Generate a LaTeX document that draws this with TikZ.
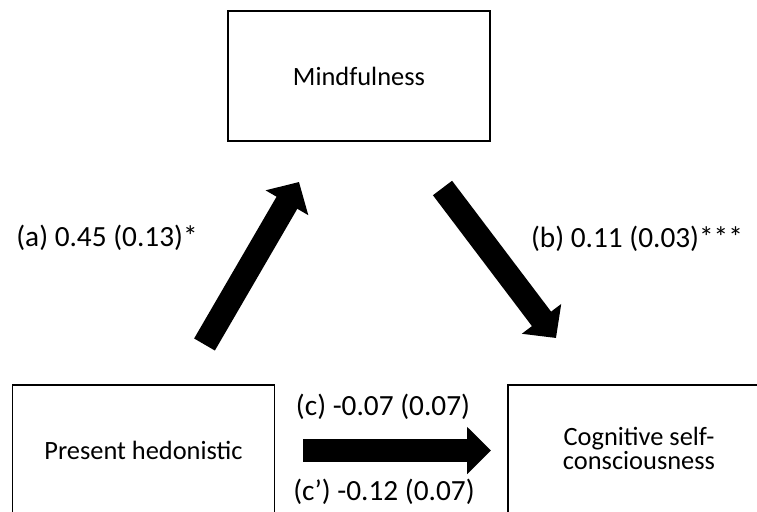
\documentclass[tikz,border=0pt]{standalone}
\usepackage{fontspec}
\setmainfont{Carlito}
\usetikzlibrary{arrows.meta}
\begin{document}
\begin{tikzpicture}[x=1pt,y=-1pt,
  varbox/.style={draw=black,line width=1.6pt,rectangle,minimum width=262pt,minimum height=130pt,inner sep=0pt,
    font=\fontsize{26.4}{24}\selectfont,align=center},
  boxtext/.style={inner sep=0pt,font=\fontsize{26.4}{24}\selectfont,align=center},
  lab/.style={inner sep=0pt,font=\fontsize{29.3}{35}\selectfont},
  bigarrow/.style={line width=24pt,-{Triangle[length=24pt,width=48pt]}}]
\useasboundingbox (0,0) rectangle (757,511);
\clip (0,0) rectangle (757,511);
\node[varbox] (m) at (359,76) {Mindfulness};
\node[varbox] (p) at (143.5,450) {Present hedonistic};
\node[varbox] (c) at (639,450) {};
\node[boxtext] (ct) at (639,448.5) {Cognitive self-\\consciousness};
\coordinate (a0) at (204.5,344.5);
\coordinate (a1) at (299,182);
\coordinate (b0) at (442.5,188);
\coordinate (b1) at (556,338);
\coordinate (c0) at (303,450.5);
\coordinate (c1) at (491,450.5);
\draw[bigarrow] (a0) -- (a1);
\draw[bigarrow] (b0) -- (b1);
\draw[line width=23pt,-{Triangle[length=24pt,width=46pt]}] (c0) -- (c1);
\node[lab] (la) at (107,238) {(a) 0.45 (0.13)*};
\node[lab] (lb) at (637,239) {(b) 0.11 (0.03)***};
\node[lab] (lc) at (383,407) {(c) -0.07 (0.07)};
\node[lab] (lcp) at (384,492) {(c’) -0.12 (0.07)};
\end{tikzpicture}
\end{document}
